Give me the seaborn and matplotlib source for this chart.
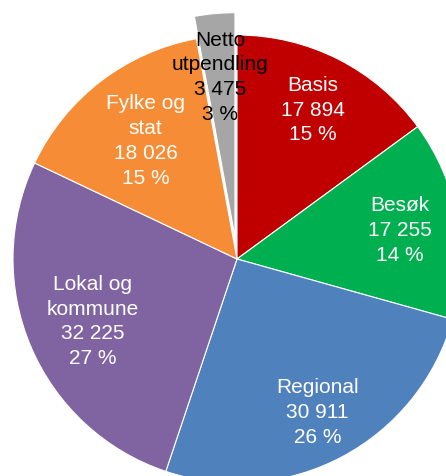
import numpy as np
import matplotlib
matplotlib.use("Agg")
import matplotlib.pyplot as plt
import seaborn as sns

# data
categories = ["Basis", "Besøk", "Regional", "Lokal og\nkommune", "Fylke og\nstat", "Netto\nutpendling"]
values = [17894, 17255, 30911, 32225, 18026, 3475]
colors = ["#C00000", "#00B050", "#4F81BD", "#8064A2", "#F68D36", "#A6A6A6"]
text_colors = ["white", "white", "white", "white", "white", "black"]
explode = [0, 0, 0, 0, 0, 0.1]
label_r = [0.75, 0.74, 0.77, 0.70, 0.67, 0.72]

sns.set_style("white")
plt.rcParams["font.family"] = ["Liberation Sans", "DejaVu Sans"]

fig = plt.figure(figsize=(4.46, 4.77), dpi=100)
ax = fig.add_axes([0, 0, 1, 1])

wedges, _ = ax.pie(values, colors=colors, startangle=90, counterclock=False,
                   explode=explode, radius=1,
                   wedgeprops=dict(edgecolor="white", linewidth=0.8))

total = sum(values)
for w, cat, v, tc, r in zip(wedges, categories, values, text_colors, label_r):
    mid = np.deg2rad((w.theta1 + w.theta2) / 2)
    cx, cy = w.center
    pct = round(v / total * 100)
    txt = f"{cat}\n{v:,}".replace(",", " ") + f"\n{pct} %"
    ax.text(cx + r * np.cos(mid), cy + r * np.sin(mid), txt,
            ha="center", va="center", color=tc, fontsize=15, linespacing=1.38)

# pie centre at (237, 260) px, radius 224 px, cropped at right and bottom
ax.set_xlim(-237 / 224, 209 / 224)
ax.set_ylim(-217 / 224, 260 / 224)
ax.set_aspect("equal")
ax.axis("off")

fig.savefig("out.png", dpi=100)
